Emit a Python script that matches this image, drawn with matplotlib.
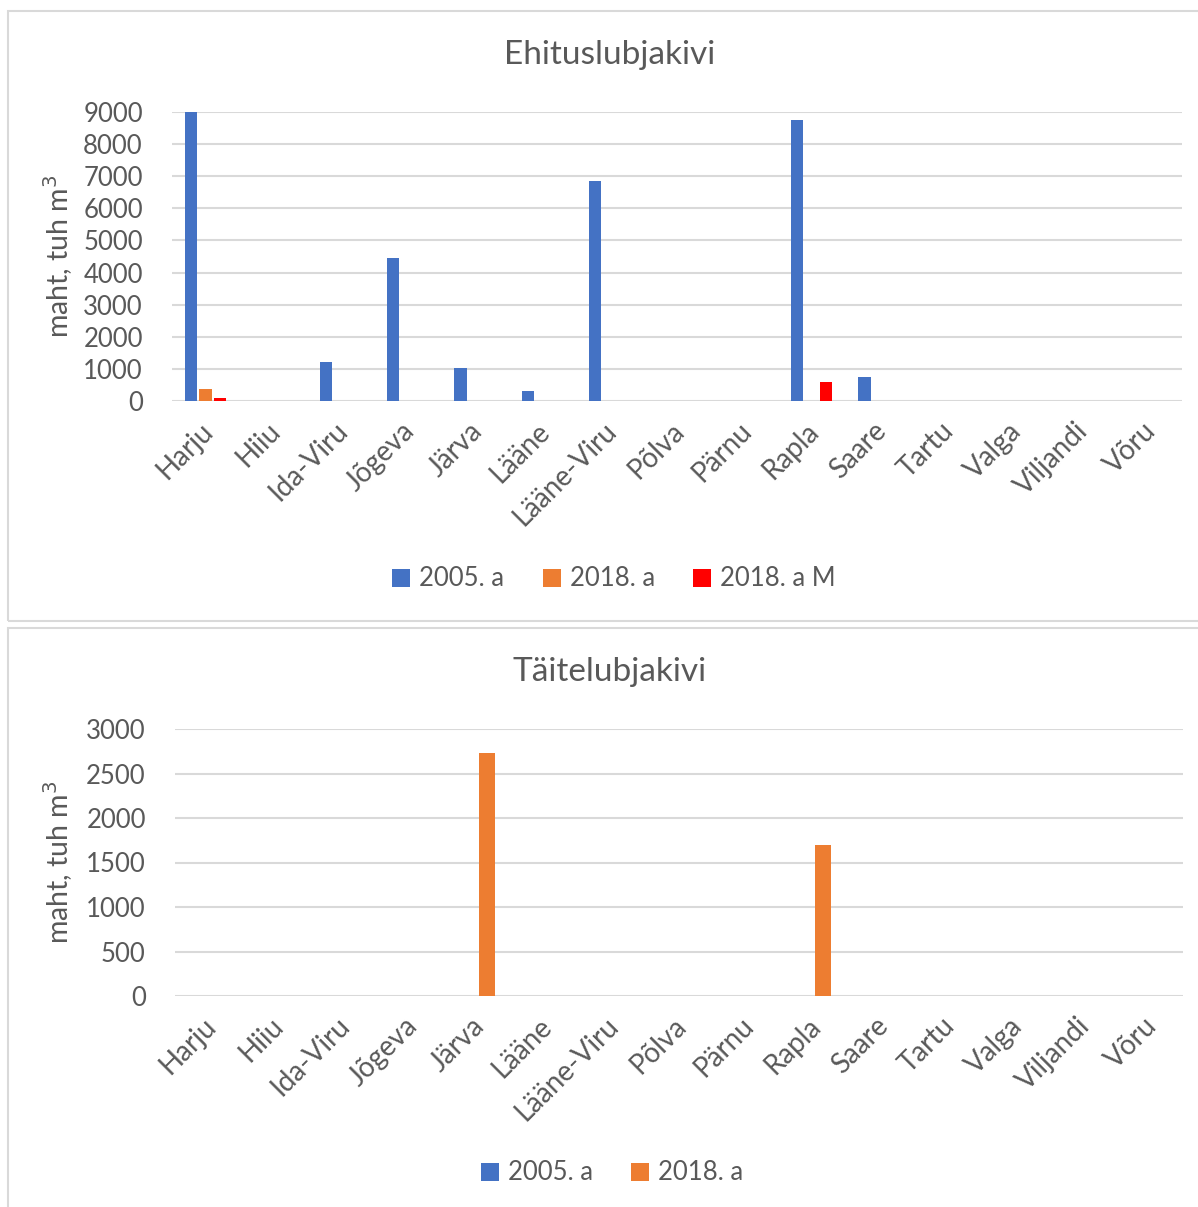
import numpy as np
import matplotlib.pyplot as plt
from matplotlib.patches import Rectangle
from matplotlib.transforms import ScaledTranslation

plt.rcParams['font.family'] = ['Lato', 'DejaVu Sans']

# maakonnad ja mahud (tuh m3)
maakonnad = ['Harju', 'Hiiu', 'Ida-Viru', 'Jõgeva', 'Järva', 'Lääne', 'Lääne-Viru',
             'Põlva', 'Pärnu', 'Rapla', 'Saare', 'Tartu', 'Valga', 'Viljandi', 'Võru']

ehitus_2005 = [9000, 0, 1210, 4450, 1030, 320, 6850, 0, 0, 8740, 750, 0, 0, 0, 0]
ehitus_2018 = [370, 0, 0, 0, 0, 0, 0, 0, 0, 0, 0, 0, 0, 0, 0]
ehitus_2018_m = [85, 0, 0, 0, 0, 0, 0, 0, 0, 600, 0, 0, 0, 0, 0]

taite_2005 = [0, 0, 0, 0, 0, 0, 0, 0, 0, 0, 0, 0, 0, 0, 0]
taite_2018 = [0, 0, 0, 0, 2725, 0, 0, 0, 0, 1700, 0, 0, 0, 0, 0]

BLUE = '#4472C4'
ORANGE = '#ED7D31'
RED = '#FF0000'
TXT = '#595959'
GRID = '#d9d9d9'

W, H = 1198, 1207
fig = plt.figure(figsize=(W / 100, H / 100), dpi=100)


def px_axes(x0, y0, x1, y1):
    # axes from pixel box (top-left origin)
    return fig.add_axes([x0 / W, 1 - y1 / H, (x1 - x0) / W, (y1 - y0) / H])


def panel(y0, y1):
    fig.patches.append(Rectangle((8 / W, 1 - y1 / H), 1.2, (y1 - y0) / H,
                                 transform=fig.transFigure, fill=False,
                                 edgecolor=GRID, linewidth=1.5))


def style_axes(ax, ymax, step):
    ax.set_ylim(0, ymax)
    ax.set_xlim(0, len(maakonnad))
    ax.set_yticks(np.arange(0, ymax + 1, step))
    ax.yaxis.grid(True, color=GRID, linewidth=1.5)
    ax.set_axisbelow(True)
    for s in ax.spines.values():
        s.set_visible(False)
    ax.tick_params(length=0, labelcolor=TXT)
    ax.tick_params(axis='y', pad=21, labelsize=18.5)
    ax.set_xticks(np.arange(len(maakonnad)) + 0.5)
    ax.set_xticklabels(maakonnad, rotation=45, ha='right', va='top',
                       rotation_mode='anchor', fontsize=20)
    ax.tick_params(axis='x', pad=12)
    # nudge rotated labels a little to the left
    shift = ScaledTranslation(-6 / 100, 0, fig.dpi_scale_trans)
    for lab in ax.get_xticklabels():
        lab.set_transform(lab.get_transform() + shift)
    ax.set_ylabel('maht, tuh m$^3$', fontsize=20.5, color=TXT)


def legend(ax, cx, cy, n):
    ax.legend(loc='center', bbox_to_anchor=(cx / W, 1 - cy / H),
              bbox_transform=fig.transFigure, ncol=n, frameon=False,
              fontsize=18.5, labelcolor=TXT, handlelength=0.7, handleheight=0.7,
              handletextpad=0.35, columnspacing=1.5)


panel(11, 621)
panel(628, 1260)

x = np.arange(len(maakonnad)) + 0.5

# Ehituslubjakivi
ax1 = px_axes(172, 112, 1182, 401)
slot = 0.215
bw = 0.185
ax1.bar(x - slot, ehitus_2005, bw, color=BLUE, label='2005. a')
ax1.bar(x, ehitus_2018, bw, color=ORANGE, label='2018. a')
ax1.bar(x + slot, ehitus_2018_m, bw, color=RED, label='2018. a M')
style_axes(ax1, 9000, 1000)
ax1.yaxis.set_label_coords(-0.096, 0.5)
fig.text(610 / W, 1 - 55 / H, 'Ehituslubjakivi', fontsize=24, color=TXT,
         ha='center', va='center')
legend(ax1, 614, 579, 3)

# Täitelubjakivi
ax2 = px_axes(175, 729, 1183, 996)
slot2 = 0.29
bw2 = 0.23
ax2.bar(x - slot2 / 2, taite_2005, bw2, color=BLUE, label='2005. a')
ax2.bar(x + slot2 / 2, taite_2018, bw2, color=ORANGE, label='2018. a')
style_axes(ax2, 3000, 500)
ax2.yaxis.set_label_coords(-0.099, 0.5)
fig.text(610 / W, 1 - 672 / H, 'Täitelubjakivi', fontsize=24, color=TXT,
         ha='center', va='center')
legend(ax2, 612, 1173, 2)

fig.savefig('out.png', dpi=100)
